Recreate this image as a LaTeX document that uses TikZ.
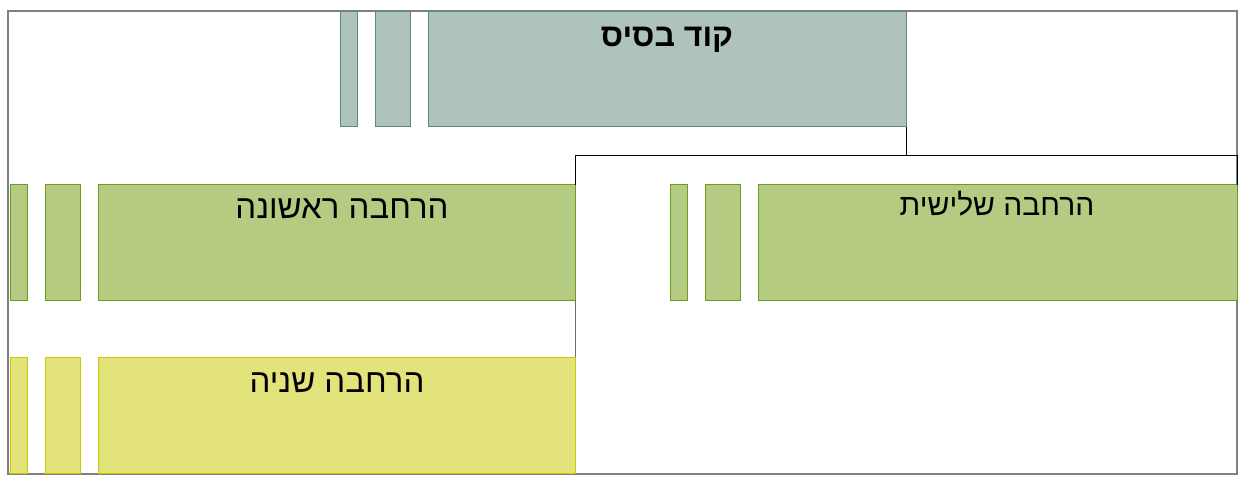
\documentclass[tikz,border=0pt]{standalone}
\usepackage{fontspec}
\TeXXeTstate=1
\newfontfamily\heb[Script=Hebrew]{Liberation Sans}
\definecolor{basefill}{HTML}{AEC3BA}
\definecolor{basedraw}{HTML}{5F8B7B}
\definecolor{gfill}{HTML}{B5CB81}
\definecolor{gdraw}{HTML}{6B9F19}
\definecolor{yfill}{HTML}{E3E37C}
\definecolor{ydraw}{HTML}{CCC800}
\tikzset{
  blk/.style={anchor=north west, inner sep=0pt, outer sep=0pt, line width=1pt},
  basebox/.style={blk, fill=basefill, draw=basedraw},
  gbox/.style={blk, fill=gfill, draw=gdraw},
  ybox/.style={blk, fill=yfill, draw=ydraw},
  lbl/.style={anchor=base, inner sep=0pt},
  conn/.style={line width=1pt, black},
}
\newcommand{\blkbox}[6]{% style, name, x1, y1, x2, y2
  \node[#1, minimum width={(#5-#3)*1pt}, minimum height={(#6-#4)*1pt}] (#2) at (#3,#4) {};}
\begin{document}
\begin{tikzpicture}[x=1pt,y=-1pt]
\useasboundingbox (0,0) rectangle (1245,489);
\fill[white] (0,0) rectangle (1245,489);
\draw[line width=2pt, color={rgb,255:red,128;green,128;blue,128}] (8,11) rectangle (1237,474);
% base code
\blkbox{basebox}{b1}{340}{12}{357}{127}
\blkbox{basebox}{b2}{375}{12}{410}{127}
\blkbox{basebox}{base}{428}{12}{906}{127}
% first extension
\blkbox{gbox}{e1a}{10}{185}{27}{300}
\blkbox{gbox}{e1b}{45}{185}{80}{300}
\blkbox{gbox}{ext1}{98}{185}{575}{300}
% second extension
\blkbox{ybox}{e2a}{10}{357}{27}{473}
\blkbox{ybox}{e2b}{45}{357}{80}{473}
\blkbox{ybox}{ext2}{98}{357}{575}{473}
% third extension
\blkbox{gbox}{e3a}{670}{185}{687}{300}
\blkbox{gbox}{e3b}{705}{185}{740}{300}
\blkbox{gbox}{ext3}{758}{185}{1237}{300}
% labels
\node[lbl, font=\heb\bfseries\fontsize{32}{36}\selectfont] (tbase) at (667,47) {\beginR קוד בסיס\endR};
\node[lbl, font=\heb\fontsize{33}{38}\selectfont] (t1) at (342,219) {\beginR הרחבה ראשונה\endR};
\node[lbl, font=\heb\fontsize{33}{38}\selectfont] (t2) at (337,392) {\beginR הרחבה שניה\endR};
\node[lbl, font=\heb\fontsize{30}{34}\selectfont] (t3) at (997,216) {\beginR הרחבה שלישית\endR};
% connectors
\coordinate (split) at (906,156);
\draw[conn] (base.south east) -- (split) -| (ext1.north east);
\draw[conn] (split) -| (ext3.north east);
\draw[line width=1pt, color={rgb,255:red,110;green,110;blue,110}] (ext1.south east) -- (ext2.north east);
\end{tikzpicture}
\end{document}
